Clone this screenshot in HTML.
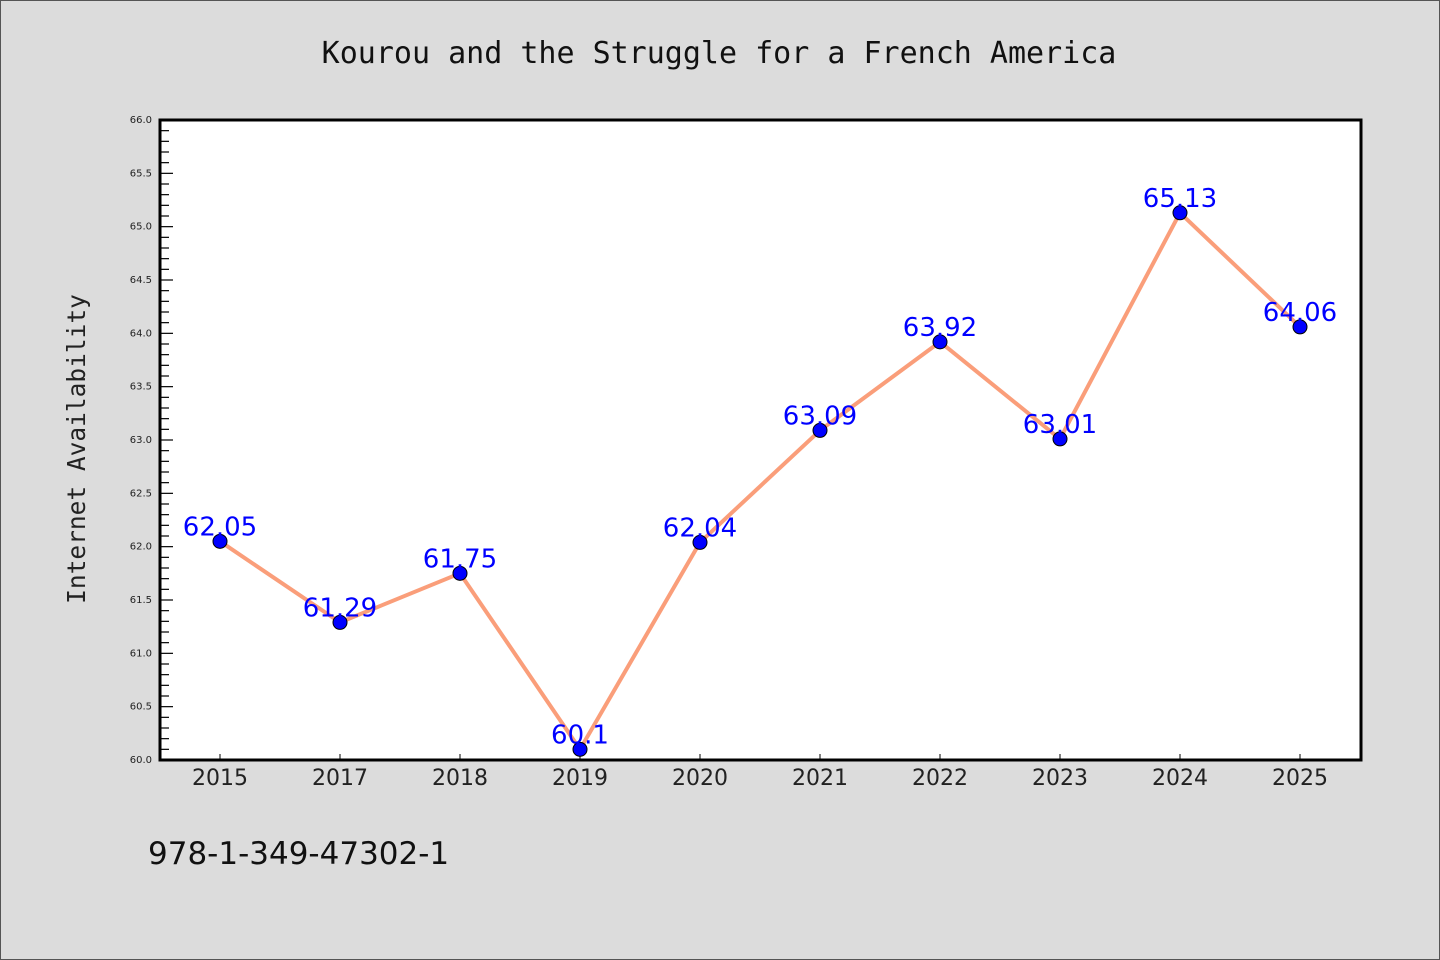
<!DOCTYPE html>
<html><head><meta charset="utf-8"><style>
body{margin:0;background:#dcdcdc;}
svg{display:block;}
</style></head><body>
<svg id="chart" width="1440" height="960" xmlns="http://www.w3.org/2000/svg">
<rect x="0.5" y="0.5" width="1439" height="959" fill="#dcdcdc" stroke="#555"/>
<text x="719" y="63" text-anchor="middle" font-family="DejaVu Sans Mono, Liberation Mono, monospace" font-size="30" fill="#111">Kourou and the Struggle for a French America</text>
<rect x="160" y="120" width="1201" height="640" fill="#fff"/>
<g id="yaxis"></g>
<g id="xaxis"></g>
<g id="series"></g>
<rect x="160" y="120" width="1201" height="640" fill="none" stroke="#000" stroke-width="3"/>
<text transform="translate(85,449) rotate(-90)" text-anchor="middle" font-family="DejaVu Sans Mono, Liberation Mono, monospace" font-size="24.5" fill="#222">Internet Availability</text>
<text x="148" y="864" font-family="DejaVu Sans, Liberation Sans, sans-serif" font-size="31" fill="#111">978-1-349-47302-1</text>
</svg>
<script>
const categories=["2015","2017","2018","2019","2020","2021","2022","2023","2024","2025"];
const values=[62.05,61.29,61.75,60.1,62.04,63.09,63.92,63.01,65.13,64.06];
const labels=["62.05","61.29","61.75","60.1","62.04","63.09","63.92","63.01","65.13","64.06"];
const yTicks=[60.0,60.5,61.0,61.5,62.0,62.5,63.0,63.5,64.0,64.5,65.0,65.5,66.0];
const NS="http://www.w3.org/2000/svg";
const yMin=60,yMax=66,yTop=120,yBot=760;
function ys(v){return yBot-(v-yMin)/(yMax-yMin)*(yBot-yTop);}
function xs(i){return 220+i*120;}
function mk(t,a,p){const e=document.createElementNS(NS,t);for(const k in a)e.setAttribute(k,a[k]);p.appendChild(e);return e;}
const ya=document.getElementById('yaxis'),xa=document.getElementById('xaxis'),sr=document.getElementById('series');
for(let k=0;k<=60;k++){const v=yMin+k*0.1;const y=ys(v);const major=k%5===0;
 const l=mk('line',{x1:160,x2:160+(major?13:9),y1:y,y2:y,stroke:'#000','stroke-width':1.2},ya);
 
 }
yTicks.forEach(v=>{const t=mk('text',{x:152,y:ys(v)+3,'text-anchor':'end','font-family':'DejaVu Sans, Liberation Sans, sans-serif','font-size':10,fill:'#222'},ya);
 t.textContent=v.toFixed(1);
 
 });
categories.forEach((c,i)=>{const l=mk('line',{x1:xs(i),x2:xs(i),y1:yBot,y2:yBot-6,stroke:'#000','stroke-width':1},xa);
 
 
 const t=mk('text',{x:xs(i),y:785,'text-anchor':'middle','font-family':'DejaVu Sans, Liberation Sans, sans-serif','font-size':22,fill:'#222'},xa);
 t.textContent=c;
 
 });
const pl=mk('polyline',{points:values.map((v,i)=>xs(i)+','+ys(v)).join(' '),fill:'none',stroke:'#fa9e7a','stroke-width':4,'stroke-linejoin':'round'},sr);


values.forEach((v,i)=>{const c=mk('circle',{cx:xs(i),cy:ys(v),r:7,fill:'#0000ff',stroke:'#000','stroke-width':1},sr);
 
 
 const t=mk('text',{x:xs(i),y:ys(v)-6,'text-anchor':'middle','font-family':'DejaVu Sans, Liberation Sans, sans-serif','font-size':26,fill:'#0000ff'},sr);
 t.textContent=labels[i];
 
 });
</script>
</body></html>
